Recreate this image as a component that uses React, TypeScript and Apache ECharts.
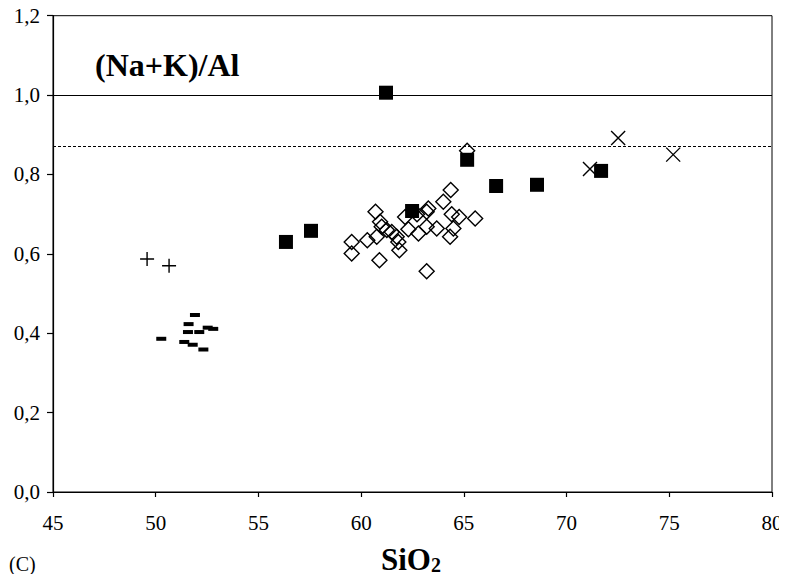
import React, { useEffect, useRef } from "react";
import * as echarts from "echarts";

// SiO2 (wt%) vs (Na+K)/Al for each sample group
const squaresX = [56.34, 57.56, 61.21, 62.48, 65.16, 66.57, 68.56, 71.68];
const squaresY = [0.63, 0.658, 1.006, 0.708, 0.837, 0.771, 0.774, 0.809];

const diamondsX = [
  59.54, 59.54, 60.3, 60.7, 60.92, 61.0, 60.76, 61.25, 61.49, 61.73, 61.81, 61.86,
  60.89, 62.3, 62.14, 62.79, 63.19, 63.68, 63.27, 63.19, 64.0, 64.36, 64.41, 64.77,
  65.55, 64.49, 64.33, 63.19, 65.16, 62.72,
];
const diamondsY = [
  0.63, 0.601, 0.634, 0.706, 0.681, 0.668, 0.643, 0.66, 0.655, 0.643, 0.63, 0.609,
  0.584, 0.662, 0.693, 0.651, 0.668, 0.664, 0.714, 0.706, 0.731, 0.761, 0.7, 0.693,
  0.689, 0.664, 0.643, 0.556, 0.86, 0.7,
];

const crossesX = [71.14, 72.51, 75.19];
const crossesY = [0.814, 0.892, 0.85];

const plusX = [49.58, 50.65];
const plusY = [0.587, 0.57];

const dashX = [51.91, 51.6, 51.57, 52.12, 52.53, 52.8, 50.27, 51.39, 51.8, 52.32];
const dashY = [0.446, 0.423, 0.403, 0.403, 0.414, 0.411, 0.386, 0.378, 0.371, 0.359];

const xTicks = { min: 45, max: 80, step: 5 };
const yTicks = { min: 0, max: 1.2, step: 0.2 };
const refSolid = 1.0;
const refDotted = 0.867;

const pairs = (xs: number[], ys: number[]) => xs.map((x, i) => [x, ys[i]]);

const SERIF = "Liberation Serif";

export default function App() {
  const ref = useRef<HTMLDivElement>(null);

  useEffect(() => {
    if (!ref.current) return;
    const chart = echarts.init(ref.current, undefined, { renderer: "svg" });
    const outline = { color: "none", borderColor: "#000", borderWidth: 1.4, opacity: 1 };
    chart.setOption({
      animation: false,
      backgroundColor: "#fff",
      textStyle: { fontFamily: SERIF },
      grid: {
        left: 53,
        right: 15,
        top: 15.7,
        bottom: 90,
        show: true,
        borderColor: "#000",
        borderWidth: 1,
        backgroundColor: "transparent",
      },
      graphic: [
        {
          type: "text",
          x: 95,
          y: 65,
          style: {
            text: "(Na+K)/Al",
            font: `bold 32px ${SERIF}`,
            fill: "#000",
            verticalAlign: "middle",
          },
        },
        {
          type: "text",
          x: 9,
          y: 564,
          style: {
            text: "(C)",
            font: `20px ${SERIF}`,
            fill: "#000",
            verticalAlign: "middle",
          },
        },
        {
          type: "text",
          x: 381,
          y: 559,
          style: {
            text: "{m|SiO}{s|2}",
            verticalAlign: "middle",
            rich: {
              m: { fontFamily: SERIF, fontWeight: "bold", fontSize: 31, fill: "#000" },
              s: {
                fontFamily: SERIF,
                fontWeight: "bold",
                fontSize: 20,
                fill: "#000",
                padding: [12, 0, 0, 0],
              },
            },
          },
        },
      ],
      xAxis: {
        type: "value",
        min: xTicks.min,
        max: xTicks.max,
        interval: xTicks.step,
        splitLine: { show: false },
        axisLine: { onZero: false, lineStyle: { color: "#000", width: 1.2 } },
        axisTick: { show: true, length: 5, lineStyle: { color: "#000", width: 1.2 } },
        axisLabel: { color: "#000", fontFamily: SERIF, fontSize: 21, margin: 20 },
      },
      yAxis: {
        type: "value",
        min: yTicks.min,
        max: yTicks.max,
        interval: yTicks.step,
        splitLine: { show: false },
        axisLine: { onZero: false, lineStyle: { color: "#000", width: 1.2 } },
        axisTick: { show: true, length: 6, lineStyle: { color: "#000", width: 1.2 } },
        axisLabel: {
          color: "#000",
          fontFamily: SERIF,
          fontSize: 21,
          margin: 13,
          formatter: (v: number) => v.toFixed(1).replace(".", ","),
        },
      },
      series: [
        {
          type: "scatter",
          name: "diamonds",
          data: pairs(diamondsX, diamondsY),
          symbol: "diamond",
          symbolSize: 15,
          itemStyle: outline,
          markLine: {
            silent: true,
            symbol: "none",
            label: { show: false },
            data: [
              { yAxis: refSolid, lineStyle: { color: "#000", width: 1, type: "solid", opacity: 1 } },
              { yAxis: refDotted, lineStyle: { color: "#000", width: 1, type: [3, 2], opacity: 1 } },
            ],
          },
        },
        {
          type: "scatter",
          name: "squares",
          data: pairs(squaresX, squaresY),
          symbol: "rect",
          symbolSize: 14,
          itemStyle: { color: "#000", opacity: 1 },
        },
        {
          type: "scatter",
          name: "crosses",
          data: pairs(crossesX, crossesY),
          symbol: "path://M0,0L10,10M10,0L0,10",
          symbolSize: 14,
          itemStyle: outline,
        },
        {
          type: "scatter",
          name: "plus",
          data: pairs(plusX, plusY),
          symbol: "path://M5,0L5,10M0,5L10,5",
          symbolSize: 14,
          itemStyle: outline,
        },
        {
          type: "scatter",
          name: "dashes",
          data: pairs(dashX, dashY),
          symbol: "rect",
          symbolSize: [10, 4],
          itemStyle: { color: "#000", opacity: 1 },
        },
      ],
    });
    return () => chart.dispose();
  }, []);

  return <div ref={ref} style={{ width: 787, height: 582, margin: -8 }} />;
}
